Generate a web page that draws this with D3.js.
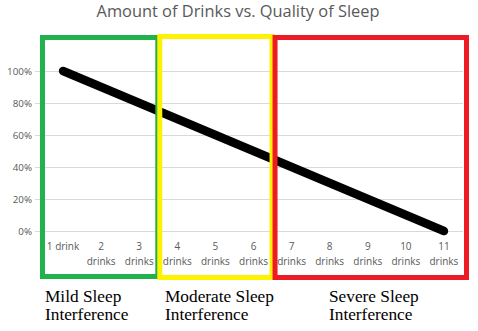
<!DOCTYPE html>
<html><head><meta charset="utf-8">
<script src="https://cdn.jsdelivr.net/npm/d3@7"></script>
<style>body{margin:0;background:#fff}svg{display:block}</style>
</head><body><svg id="c" width="478" height="331"></svg>
<script>
const categories = [["1 drink"],["2","drinks"],["3","drinks"],["4","drinks"],["5","drinks"],["6","drinks"],["7","drinks"],["8","drinks"],["9","drinks"],["10","drinks"],["11","drinks"]];
const catKeys = categories.map((d,i)=>"c"+i);
const quality = [100,90,80,70,60,50,40,30,20,10,0];
const yTicks = [0,20,40,60,80,100];
const groupLabels = [["Mild Sleep","Interference"],["Moderate Sleep","Interference"],["Severe Sleep","Interference"]];
const groupFrom = [0,3,6];
const groupTo = [2,5,10];
const groupColors = ["#22B14C","#FFF200","#ED1C24"];
const title = "Amount of Drinks vs. Quality of Sleep";

const svg = d3.select("#c");
const x = d3.scaleBand().domain(catKeys).range([44, 463]).padding(0);
const y = d3.scaleLinear().domain([0,100]).range([231, 71]);

svg.append("text").attr("x",238).attr("y",16.5).attr("text-anchor","middle")
  .attr("font-family","Open Sans, sans-serif").attr("font-size",16.4).attr("fill","#595959").text(title);

// gridlines
svg.append("g").selectAll("line").data(yTicks).join("line")
  .attr("x1",35).attr("x2",463).attr("y1",d=>y(d)+0.5).attr("y2",d=>y(d)+0.5)
  .attr("stroke","#d9d9d9").attr("stroke-width",1);

// y axis labels
const yAxis = d3.axisLeft(y).tickValues(yTicks).tickFormat(d=>d+"%").tickSize(0).tickPadding(0);
const ya = svg.append("g").attr("transform","translate(32,0)").call(yAxis);
ya.select(".domain").remove();
ya.selectAll("text").attr("font-family","Open Sans, sans-serif").attr("font-size",9.8).attr("fill","#595959");

// x labels
const xl = svg.append("g").selectAll("text").data(categories).join("text")
  .attr("x",(d,i)=>x(catKeys[i])+x.bandwidth()/2).attr("y",249.5).attr("text-anchor","middle")
  .attr("font-family","Open Sans, sans-serif").attr("font-size",10).attr("fill","#595959");
xl.selectAll("tspan").data(d=>d).join("tspan")
  .attr("x",function(){return this.parentNode.getAttribute("x");})
  .attr("dy",(d,i)=>i?15.5:0).text(d=>d);

// line
const line = d3.line().x((d,i)=>x(catKeys[i])+x.bandwidth()/2).y(d=>y(d));
svg.append("path").datum(quality).attr("d",line).attr("fill","none")
  .attr("stroke","#000").attr("stroke-width",8.5).attr("stroke-linecap","round").attr("stroke-linejoin","round");

// boxes (outer edges derived from band edges)
const sw = 5;
const boxes = [
  {l: x(catKeys[0]) - 4,  r: x(catKeys[3]) + 2, t: 35, b: 279},
  {l: x(catKeys[3]) - 1,  r: x(catKeys[6]) + 2, t: 34, b: 280},
  {l: x(catKeys[6]),      r: x(catKeys[10]) + x.bandwidth() + 6, t: 35, b: 280}
];
boxes.forEach((bx,gi)=>{
  svg.append("rect").attr("x",bx.l+sw/2).attr("y",bx.t+sw/2)
    .attr("width",bx.r-bx.l-sw).attr("height",bx.b-bx.t-sw)
    .attr("fill","none").attr("stroke",groupColors[gi]).attr("stroke-width",sw);
});
// group labels
const lx = [45,165,329];
groupLabels.forEach((lab,gi)=>{
  const t = svg.append("text").attr("x",lx[gi]).attr("y",301.5)
    .attr("font-family","Liberation Serif, serif").attr("font-size",17.3).attr("fill","#000");
  lab.forEach((s,i)=>t.append("tspan").attr("x",lx[gi]).attr("dy",i?18.5:0).text(s));
});
</script></body></html>
